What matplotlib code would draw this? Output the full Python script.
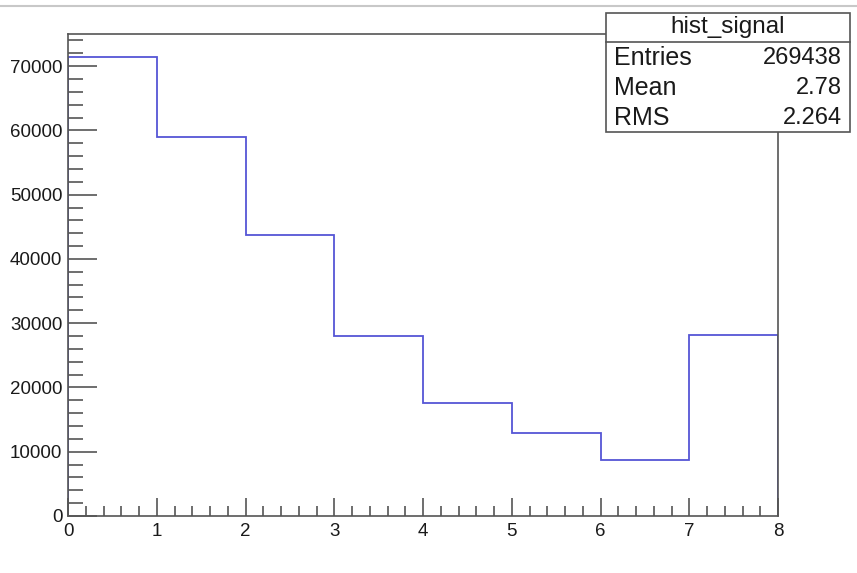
import matplotlib
matplotlib.use("Agg")
import matplotlib.pyplot as plt
from matplotlib.patches import Rectangle
from matplotlib.lines import Line2D
from matplotlib.ticker import MultipleLocator
import numpy as np

bin_edges = [0, 1, 2, 3, 4, 5, 6, 7, 8]
counts = [71430, 59000, 43700, 28000, 17570, 12900, 8700, 28150]
y_ticks = [0, 10000, 20000, 30000, 40000, 50000, 60000, 70000]
x_ticks = [0, 1, 2, 3, 4, 5, 6, 7, 8]
stats_title = "hist_signal"
stats_labels = ["Entries", "Mean", "RMS"]
stats_values = ["269438", "2.78", "2.264"]

plt.rcParams['font.family'] = ['Liberation Sans', 'DejaVu Sans']

fig = plt.figure(figsize=(8.57, 5.73), dpi=100)
ax = fig.add_axes([68/857, 1-516/573, 710/857, 482/573])

ax.stairs(counts, bin_edges, color='#5555d5', linewidth=1.3)
ax.set_xlim(0, 8)
ax.set_ylim(0, 75000)

ax.set_xticks(x_ticks)
ax.set_yticks(y_ticks)
ax.set_yticklabels([str(v) for v in y_ticks])
ax.xaxis.set_minor_locator(MultipleLocator(0.2))
ax.yaxis.set_minor_locator(MultipleLocator(2000))

frame_col = '#555555'
txt_col = '#1a1a1a'
for s in ax.spines.values():
    s.set_color(frame_col)
    s.set_linewidth(1.2)
ax.tick_params(axis='y', which='major', direction='in', length=21, width=1.2, color=frame_col,
               labelsize=13.5, pad=4, labelcolor=txt_col)
ax.tick_params(axis='y', which='minor', direction='in', length=11, width=1.2, color=frame_col)
ax.tick_params(axis='x', which='major', direction='in', length=13, width=1.2, color=frame_col,
               labelsize=13.5, pad=5, labelcolor=txt_col)
ax.tick_params(axis='x', which='minor', direction='in', length=7, width=1.2, color=frame_col)

# top screenshot line
fig.add_artist(Line2D([0, 1], [1-6/573, 1-6/573], color='#c8c8c8', linewidth=1.5,
                      transform=fig.transFigure))

# stats box
bx0, bx1 = 606/857, 850/857
by0, by1 = 1-132/573, 1-13/573
fig.add_artist(Rectangle((bx0, by0), bx1-bx0, by1-by0, transform=fig.transFigure,
                         facecolor='white', edgecolor=frame_col, linewidth=1.2, zorder=5))
hy = 1-42/573
fig.add_artist(Line2D([bx0, bx1], [hy, hy], color=frame_col, linewidth=1.2,
                      transform=fig.transFigure, zorder=6))
fig.text((bx0+bx1)/2, 1-27/573, stats_title, ha='center', va='center', fontsize=17.5,
         color=txt_col, zorder=7)
rows_y = [58, 88, 118]
for lab, val, yy in zip(stats_labels, stats_values, rows_y):
    fig.text(bx0 + 8/857, 1-yy/573, lab, ha='left', va='center', fontsize=18, color=txt_col, zorder=7)
    fig.text(bx1 - 8/857, 1-yy/573, val, ha='right', va='center', fontsize=17, color=txt_col, zorder=7)

fig.savefig('out.png', dpi=100)
